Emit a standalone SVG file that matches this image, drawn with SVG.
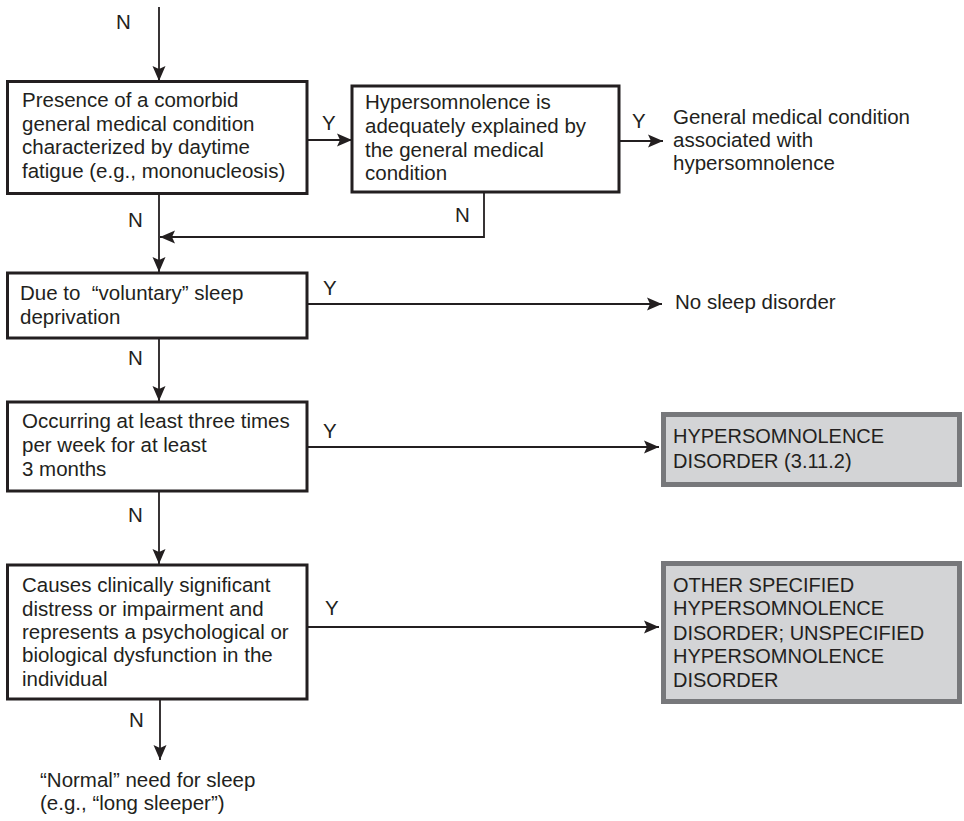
<svg xmlns="http://www.w3.org/2000/svg" width="964" height="821" viewBox="0 0 964 821">
  <style>
    text { font-family: "Liberation Sans", Arial, sans-serif; font-size: 20.5px; fill: #231f20; }
    .caps { font-size: 20px; }
    .box { fill: #ffffff; stroke: #231f20; stroke-width: 3; }
    .result { fill: #d3d4d6; stroke: #77787b; stroke-width: 5; }
    .conn path { fill: none; stroke: #231f20; stroke-width: 1.8; marker-end: url(#arrow); }
  </style>
  <defs>
    <marker id="arrow" markerUnits="userSpaceOnUse" markerWidth="16" markerHeight="14" viewBox="0 0 16 14" refX="15" refY="7" orient="auto">
      <path d="M0,0.5 L15,7 L0,13.5 L3,7 Z" fill="#231f20"/>
    </marker>
  </defs>
  <rect width="964" height="821" fill="#ffffff"/>

  <!-- connectors -->
  <g id="connectors" class="conn">
    <path d="M159,7 V81"/>
    <path d="M307,140 H352"/>
    <path d="M619,141 H663"/>
    <path d="M484,193 V237 H160"/>
    <path d="M159,194 V272"/>
    <path d="M307,304 H662"/>
    <path d="M159,339 V401"/>
    <path d="M307,447 H659"/>
    <path d="M159,491 V564"/>
    <path d="M307,627 H659"/>
    <path d="M160,700 V760"/>
  </g>

  <!-- branch labels -->
  <g id="labels">
    <text x="116" y="29">N</text>
    <text x="322" y="130">Y</text>
    <text x="632" y="128">Y</text>
    <text x="455" y="222">N</text>
    <text x="128" y="227">N</text>
    <text x="323" y="295">Y</text>
    <text x="128" y="365">N</text>
    <text x="323" y="438">Y</text>
    <text x="128" y="522">N</text>
    <text x="325" y="615">Y</text>
    <text x="129" y="727">N</text>
  </g>

  <g id="comorbid">
    <rect class="box" x="7.5" y="81.5" width="299.5" height="112"/>
    <text x="22" y="107">Presence of a comorbid</text>
    <text x="22" y="130.5">general medical condition</text>
    <text x="22" y="154">characterized by daytime</text>
    <text x="22" y="177.5">fatigue (e.g., mononucleosis)</text>
  </g>

  <g id="explained">
    <rect class="box" x="352" y="86" width="267" height="106"/>
    <text x="365" y="109">Hypersomnolence is</text>
    <text x="365" y="133">adequately explained by</text>
    <text x="365" y="157">the general medical</text>
    <text x="365" y="180">condition</text>
  </g>

  <g id="medical-outcome">
    <text x="673" y="124">General medical condition</text>
    <text x="673" y="147">associated with</text>
    <text x="673" y="170">hypersomnolence</text>
  </g>

  <g id="voluntary">
    <rect class="box" x="7.5" y="273" width="299.5" height="65"/>
    <text x="20" y="300" xml:space="preserve">Due to  “voluntary” sleep</text>
    <text x="20" y="324">deprivation</text>
  </g>

  <g id="no-disorder">
    <text x="675" y="309">No sleep disorder</text>
  </g>

  <g id="frequency">
    <rect class="box" x="7.5" y="402" width="299.5" height="89"/>
    <text x="22" y="428">Occurring at least three times</text>
    <text x="22" y="452">per week for at least</text>
    <text x="22" y="476">3 months</text>
  </g>

  <g id="hypersomnolence-disorder">
    <rect class="result" x="663.5" y="414.5" width="296" height="70"/>
    <text class="caps" x="673" y="443">HYPERSOMNOLENCE</text>
    <text class="caps" x="673" y="468">DISORDER (3.11.2)</text>
  </g>

  <g id="distress">
    <rect class="box" x="7.5" y="565" width="299.5" height="134"/>
    <text x="22" y="592">Causes clinically significant</text>
    <text x="22" y="616">distress or impairment and</text>
    <text x="22" y="639">represents a psychological or</text>
    <text x="22" y="662">biological dysfunction in the</text>
    <text x="22" y="686">individual</text>
  </g>

  <g id="other-specified">
    <rect class="result" x="663.5" y="563.5" width="296" height="138"/>
    <text class="caps" x="673" y="592">OTHER SPECIFIED</text>
    <text class="caps" x="673" y="615">HYPERSOMNOLENCE</text>
    <text class="caps" x="673" y="640">DISORDER; UNSPECIFIED</text>
    <text class="caps" x="673" y="663">HYPERSOMNOLENCE</text>
    <text class="caps" x="673" y="687">DISORDER</text>
  </g>

  <g id="normal-need">
    <text x="40" y="787">“Normal” need for sleep</text>
    <text x="40" y="810">(e.g., “long sleeper”)</text>
  </g>
</svg>
